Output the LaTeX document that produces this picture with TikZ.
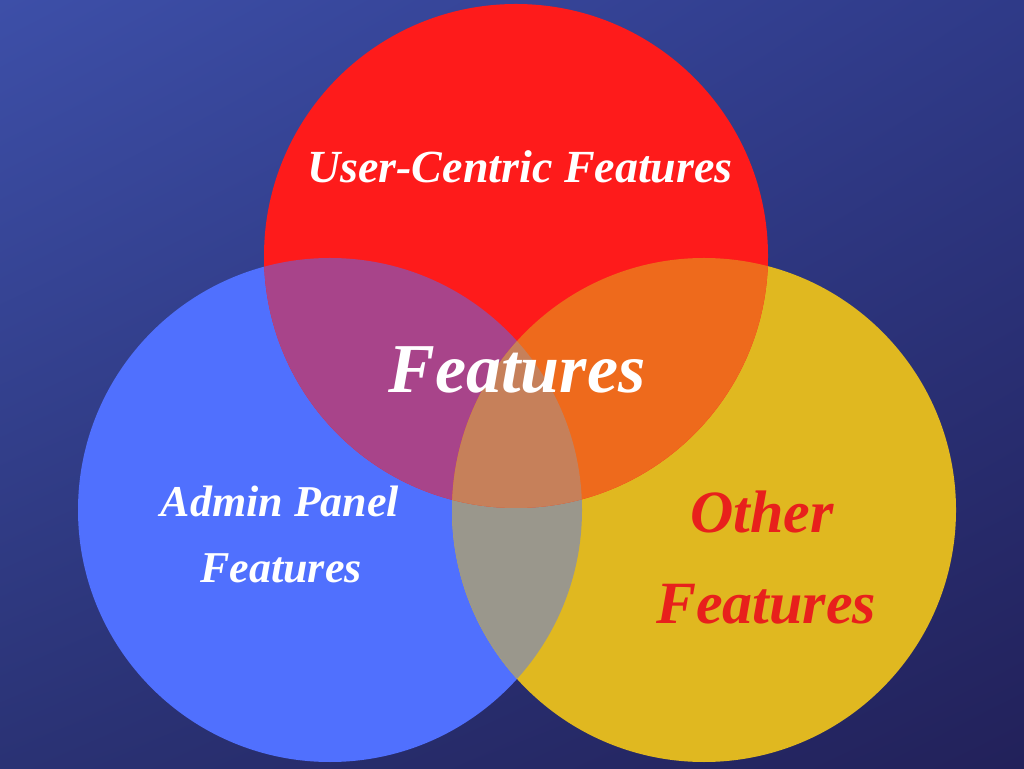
\documentclass[tikz,border=0pt]{standalone}
\usepackage{fontspec}
\usetikzlibrary{shadings}
\newfontfamily\lblfont{Liberation Serif}
\definecolor{bgUL}{HTML}{3D4FA8}
\definecolor{bgUR}{HTML}{2F3A88}
\definecolor{bgLL}{HTML}{2A3274}
\definecolor{bgLR}{HTML}{22215A}
\definecolor{cred}{HTML}{FE1B1B}
\definecolor{cblue}{HTML}{5070FE}
\definecolor{cyellow}{HTML}{E0B820}
\definecolor{cpurple}{HTML}{A8448A}
\definecolor{corange}{HTML}{EE6A1C}
\definecolor{cgray}{HTML}{9A978C}
\definecolor{ccenter}{HTML}{C6805A}
\definecolor{ctextred}{HTML}{E8201C}
\tikzset{
  lbl/.style={font=\lblfont\bfseries\itshape, text=white, anchor=base, inner sep=0pt, align=center},
}
\begin{document}
\begin{tikzpicture}[x=1pt,y=1pt]
\useasboundingbox (0,0) rectangle (1024,768);
\shade[upper left=bgUL, upper right=bgUR, lower left=bgLL, lower right=bgLR] (0,0) rectangle (1024,768);
\def\R{252}
\coordinate (cr) at (516,512);
\coordinate (cb) at (330,258);
\coordinate (cy) at (704,258);
\fill[cblue] (cb) circle[radius=\R];
\fill[cyellow] (cy) circle[radius=\R];
\fill[cred] (cr) circle[radius=\R];
\begin{scope}
  \clip (cb) circle[radius=\R];
  \fill[cgray] (cy) circle[radius=\R];
\end{scope}
\begin{scope}
  \clip (cr) circle[radius=\R];
  \fill[cpurple] (cb) circle[radius=\R];
  \fill[corange] (cy) circle[radius=\R];
  \clip (cb) circle[radius=\R];
  \fill[ccenter] (cy) circle[radius=\R];
\end{scope}
\node[lbl, font=\lblfont\bfseries\itshape\fontsize{46}{54}\selectfont] (user) at (520,585) {User-Centric Features};
\node[lbl, font=\lblfont\bfseries\itshape\fontsize{70}{78}\selectfont] (feat) at (517,375) {Features};
\node[lbl, font=\lblfont\bfseries\itshape\fontsize{44}{52}\selectfont] (admin1) at (280,251) {Admin Panel};
\node[lbl, font=\lblfont\bfseries\itshape\fontsize{44}{52}\selectfont] (admin2) at (281,185) {Features};
\node[lbl, text=ctextred, font=\lblfont\bfseries\itshape\fontsize{60}{68}\selectfont] (other1) at (762,235) {Other};
\node[lbl, text=ctextred, font=\lblfont\bfseries\itshape\fontsize{60}{68}\selectfont] (other2) at (766,144) {Features};
\end{tikzpicture}
\end{document}
